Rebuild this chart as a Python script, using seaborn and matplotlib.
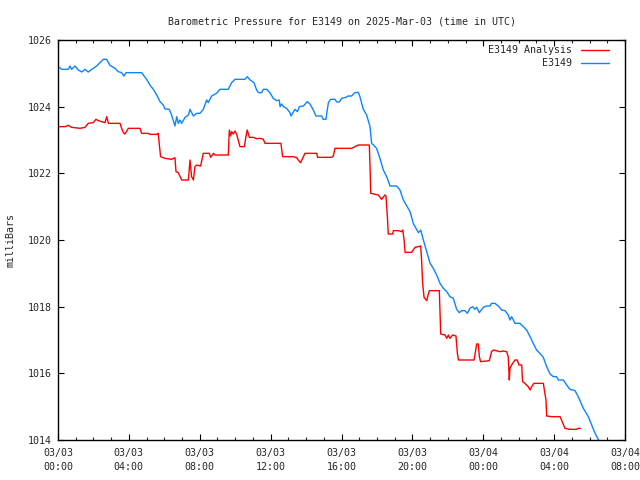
import matplotlib
matplotlib.use("Agg")
import matplotlib.pyplot as plt
from matplotlib.ticker import MultipleLocator
import numpy as np
import pandas as pd
import seaborn as sns

# hours since 2025-03-03 00:00 UTC
obs_hours = [0.02, 0.21, 0.58, 0.68, 0.77, 0.96, 1.15, 1.34, 1.52, 1.71, 1.90, 1.99, 2.18, 2.37, 2.56, 2.75,
             2.93, 3.22, 3.40, 3.59, 3.72, 3.84, 4.72, 5.00, 5.19, 5.38, 5.57, 5.76, 5.94, 6.04, 6.28, 6.41,
             6.60, 6.70, 6.79, 6.88, 6.98, 7.17, 7.36, 7.45, 7.64, 7.83, 8.01, 8.20, 8.39, 8.48, 8.67, 8.95,
             9.14, 9.61, 9.80, 9.99, 10.55, 10.68, 10.84, 11.06, 11.21, 11.31, 11.49, 11.59, 11.78, 11.96,
             12.15, 12.34, 12.49, 12.53, 12.62, 12.72, 12.90, 13.09, 13.15, 13.37, 13.51, 13.62, 13.85, 14.07,
             14.22, 14.41, 14.56, 14.88, 14.97, 15.12, 15.26, 15.39, 15.63, 15.73, 15.88, 16.01, 16.25, 16.38,
             16.57, 16.76, 16.95, 17.04, 17.23, 17.42, 17.61, 17.70, 17.80, 17.98, 18.17, 18.36, 18.55, 18.74,
             19.11, 19.30, 19.49, 19.87, 20.05, 20.15, 20.34, 20.47, 20.62, 20.81, 21.00, 21.18, 21.37, 21.56,
             21.75, 21.94, 22.12, 22.31, 22.50, 22.65, 22.78, 22.97, 23.10, 23.25, 23.40, 23.53, 23.63, 23.78,
             24.00, 24.19, 24.38, 24.47, 24.66, 24.85, 25.04, 25.23, 25.41, 25.51, 25.60, 25.70, 25.79, 26.07,
             26.26, 26.45, 26.64, 26.82, 27.01, 27.20, 27.39, 27.58, 27.77, 27.95, 28.14, 28.24, 28.52, 28.71,
             28.89, 29.18, 29.36, 29.65, 29.93, 30.12, 30.31, 30.49, 30.60]
obs_mb = [1025.20, 1025.12, 1025.12, 1025.22, 1025.12, 1025.22, 1025.10, 1025.04, 1025.12, 1025.04, 1025.12,
          1025.15, 1025.22, 1025.32, 1025.42, 1025.42, 1025.24, 1025.15, 1025.05, 1025.02, 1024.92, 1025.02,
          1025.02, 1024.82, 1024.65, 1024.52, 1024.35, 1024.15, 1024.05, 1023.93, 1023.92, 1023.75, 1023.42,
          1023.70, 1023.50, 1023.60, 1023.50, 1023.68, 1023.75, 1023.92, 1023.72, 1023.80, 1023.80, 1023.92,
          1024.20, 1024.12, 1024.32, 1024.40, 1024.52, 1024.52, 1024.72, 1024.82, 1024.82, 1024.90, 1024.80,
          1024.72, 1024.50, 1024.42, 1024.42, 1024.52, 1024.52, 1024.42, 1024.25, 1024.18, 1024.20, 1024.00,
          1024.08, 1024.00, 1023.95, 1023.82, 1023.72, 1023.92, 1023.85, 1024.00, 1024.02, 1024.15, 1024.08,
          1023.90, 1023.72, 1023.72, 1023.62, 1023.62, 1024.12, 1024.22, 1024.22, 1024.14, 1024.14, 1024.25,
          1024.28, 1024.32, 1024.32, 1024.42, 1024.43, 1024.30, 1023.92, 1023.75, 1023.40, 1022.90, 1022.85,
          1022.75, 1022.45, 1022.10, 1021.90, 1021.62, 1021.62, 1021.50, 1021.20, 1020.85, 1020.50, 1020.40,
          1020.22, 1020.30, 1020.00, 1019.65, 1019.30, 1019.15, 1018.95, 1018.70, 1018.55, 1018.45, 1018.30,
          1018.25, 1017.92, 1017.82, 1017.88, 1017.88, 1017.80, 1017.95, 1018.00, 1017.92, 1017.98, 1017.82,
          1017.98, 1018.02, 1018.02, 1018.10, 1018.10, 1018.02, 1017.90, 1017.88, 1017.75, 1017.60, 1017.70,
          1017.60, 1017.50, 1017.50, 1017.40, 1017.30, 1017.10, 1016.90, 1016.70, 1016.60, 1016.48, 1016.20,
          1015.98, 1015.90, 1015.90, 1015.80, 1015.80, 1015.65, 1015.52, 1015.48, 1015.30, 1014.95, 1014.70,
          1014.45, 1014.20, 1014.02, 1013.90]

ana_hours = [0.02, 0.40, 0.58, 0.77, 1.24, 1.52, 1.71, 1.99, 2.14, 2.28, 2.46, 2.65, 2.75, 2.84, 3.50, 3.59,
             3.69, 3.78, 3.97, 4.63, 4.72, 5.10, 5.19, 5.57, 5.66, 5.72, 5.79, 6.04, 6.41, 6.60, 6.66, 6.79,
             6.98, 7.36, 7.45, 7.54, 7.64, 7.73, 7.83, 8.05, 8.20, 8.54, 8.62, 8.77, 8.86, 9.61, 9.67, 9.74,
             9.80, 9.89, 9.99, 10.08, 10.27, 10.52, 10.59, 10.68, 10.80, 11.02, 11.21, 11.40, 11.59, 11.68,
             12.58, 12.68, 13.28, 13.47, 13.56, 13.69, 13.94, 14.60, 14.65, 15.44, 15.54, 15.63, 16.57, 16.76,
             16.95, 17.57, 17.61, 17.65, 18.08, 18.26, 18.45, 18.51, 18.59, 18.64, 18.89, 18.93, 19.21, 19.40,
             19.46, 19.53, 19.59, 19.96, 20.15, 20.34, 20.47, 20.52, 20.58, 20.66, 20.81, 20.90, 20.96, 21.52,
             21.56, 21.60, 21.84, 21.94, 22.03, 22.12, 22.27, 22.46, 22.54, 22.60, 23.48, 23.53, 23.63, 23.72,
             23.78, 23.85, 24.34, 24.47, 24.57, 24.94, 25.13, 25.32, 25.41, 25.47, 25.51, 25.60, 25.79, 25.92,
             26.02, 26.17, 26.22, 26.35, 26.54, 26.64, 26.73, 26.86, 27.39, 27.45, 27.54, 27.58, 27.86, 28.33,
             28.42, 28.61, 28.89, 29.27, 29.36, 29.49]
ana_mb = [1023.40, 1023.40, 1023.44, 1023.38, 1023.35, 1023.38, 1023.50, 1023.52, 1023.62, 1023.58, 1023.55,
          1023.52, 1023.70, 1023.50, 1023.50, 1023.35, 1023.22, 1023.18, 1023.35, 1023.35, 1023.20, 1023.20,
          1023.17, 1023.17, 1023.20, 1022.85, 1022.50, 1022.45, 1022.42, 1022.47, 1022.05, 1022.02, 1021.80,
          1021.80, 1022.40, 1021.90, 1021.80, 1022.20, 1022.25, 1022.22, 1022.60, 1022.60, 1022.48, 1022.60,
          1022.55, 1022.55, 1023.30, 1023.12, 1023.25, 1023.18, 1023.27, 1023.18, 1022.80, 1022.80, 1023.05,
          1023.30, 1023.08, 1023.08, 1023.04, 1023.05, 1023.02, 1022.90, 1022.90, 1022.50, 1022.50, 1022.47,
          1022.40, 1022.32, 1022.60, 1022.60, 1022.48, 1022.48, 1022.52, 1022.75, 1022.75, 1022.80, 1022.85,
          1022.85, 1022.20, 1021.40, 1021.35, 1021.22, 1021.35, 1021.32, 1020.70, 1020.18, 1020.18, 1020.28,
          1020.28, 1020.25, 1020.30, 1020.00, 1019.63, 1019.63, 1019.78, 1019.80, 1019.82, 1019.40, 1018.70,
          1018.28, 1018.18, 1018.38, 1018.48, 1018.48, 1017.85, 1017.18, 1017.15, 1017.05, 1017.15, 1017.05,
          1017.15, 1017.12, 1016.60, 1016.40, 1016.40, 1016.55, 1016.88, 1016.88, 1016.50, 1016.35, 1016.38,
          1016.65, 1016.70, 1016.65, 1016.67, 1016.65, 1016.50, 1015.80, 1016.15, 1016.25, 1016.40, 1016.40,
          1016.25, 1016.25, 1015.75, 1015.70, 1015.60, 1015.50, 1015.60, 1015.70, 1015.70, 1015.50, 1015.20,
          1014.72, 1014.70, 1014.70, 1014.60, 1014.35, 1014.32, 1014.32, 1014.35, 1014.35]

x_tick_hours = [0, 4, 8, 12, 16, 20, 24, 28, 32]
x_tick_labels = ["03/03\n00:00", "03/03\n04:00", "03/03\n08:00", "03/03\n12:00", "03/03\n16:00",
                 "03/03\n20:00", "03/04\n00:00", "03/04\n04:00", "03/04\n08:00"]
y_ticks = [1014, 1016, 1018, 1020, 1022, 1024, 1026]

title = "Barometric Pressure for E3149 on 2025-Mar-03 (time in UTC)"
ylabel = "milliBars"
series_names = ["E3149 Analysis", "E3149"]
colors = ["#ff0000", "#0a84ff"]

sns.set_style("white")
plt.rcParams["font.family"] = ["DejaVu Sans Mono"]
FS = 7.2

fig = plt.figure(figsize=(6.4, 4.8), dpi=100)
ax = fig.add_axes([58/640, 40/480, 567/640, 400/480])

df_ana = pd.DataFrame({"hours": ana_hours, "mb": ana_mb})
df_obs = pd.DataFrame({"hours": obs_hours, "mb": obs_mb})
sns.lineplot(data=df_ana, x="hours", y="mb", ax=ax, color=colors[0], lw=1.0,
             label=series_names[0], sort=False, estimator=None)
sns.lineplot(data=df_obs, x="hours", y="mb", ax=ax, color=colors[1], lw=1.0,
             label=series_names[1], sort=False, estimator=None)

ax.set_xlim(0, 32)
ax.set_ylim(1014, 1026)
ax.set_xticks(x_tick_hours)
ax.set_xticklabels(x_tick_labels, fontsize=FS, linespacing=1.45)
ax.set_yticks(y_ticks)
ax.set_yticklabels([str(v) for v in y_ticks], fontsize=FS)
ax.xaxis.set_minor_locator(MultipleLocator(1))
ax.tick_params(which="major", direction="in", length=4, width=0.8, top=True, right=True,
               bottom=True, left=True, color="black", labelsize=FS)
ax.tick_params(which="major", axis="y", pad=4.3)
ax.tick_params(which="major", axis="x", pad=6)
ax.tick_params(which="minor", axis="x", direction="in", length=2, width=0.8, top=True, bottom=True)
for s in ax.spines.values():
    s.set_color("black")
    s.set_linewidth(1.0)

ax.set_xlabel("")
ax.set_ylabel(ylabel, fontsize=FS)
ax.yaxis.set_label_coords(-0.075, 0.5)
ax.set_title(title, fontsize=FS, pad=11)

leg = ax.legend(loc="upper right", bbox_to_anchor=(0.9788, 0.997), frameon=False, markerfirst=False,
                fontsize=FS, handlelength=2.8, handletextpad=0.9, labelspacing=0.3,
                borderaxespad=0.0)

fig.savefig("out.png", dpi=100)
